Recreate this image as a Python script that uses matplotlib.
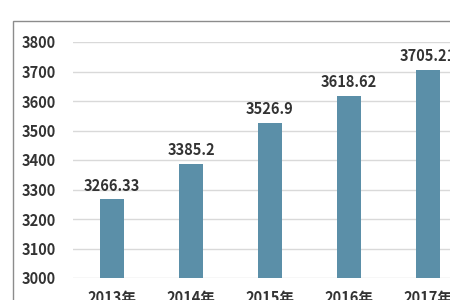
import matplotlib.pyplot as plt
from matplotlib.patches import Rectangle

years = ['2013年', '2014年', '2015年', '2016年', '2017年']
values = [3266.33, 3385.2, 3526.9, 3618.62, 3705.21]
value_labels = ['3266.33', '3385.2', '3526.9', '3618.62', '3705.21']
yticks = [3000, 3100, 3200, 3300, 3400, 3500, 3600, 3700, 3800]

plt.rcParams['font.family'] = ['Noto Sans CJK SC', 'DejaVu Sans']

fig = plt.figure(figsize=(4.5, 3), dpi=100)
ax = fig.add_axes([72.5 / 450, 22 / 300, 395 / 450, 236 / 300])

# outer frame of the original chart (cut off at right and bottom)
fig.patches.append(Rectangle((13 / 450, -0.2), 1.0, 0.2 + (300 - 21) / 300,
                             transform=fig.transFigure, fill=False,
                             edgecolor='#8c8c8c', linewidth=1.0))

x = range(len(years))
ax.bar(x, values, width=0.31, color='#5b8fa8', zorder=3)
for i, v in enumerate(values):
    ax.text(i, v + 20, value_labels[i], ha='center', va='bottom',
            fontsize=10.5, fontweight='bold', color='#333333')

ax.set_xlim(-0.5, 4.5)
ax.set_ylim(3000, 3800)
ax.set_yticks(yticks)
ax.set_yticklabels([str(t) for t in yticks], fontsize=10.5, fontweight='bold', color='#333333')
ax.set_xticks(list(x))
ax.set_xticklabels(years, fontsize=10.5, fontweight='bold', color='#333333')
ax.tick_params(length=0)
ax.tick_params(axis='y', pad=12)
ax.tick_params(axis='x', pad=9)
ax.grid(axis='y', color='#d9d9d9', linewidth=1, zorder=0)
for s in ax.spines.values():
    s.set_visible(False)

fig.savefig('out.png', dpi=100)
